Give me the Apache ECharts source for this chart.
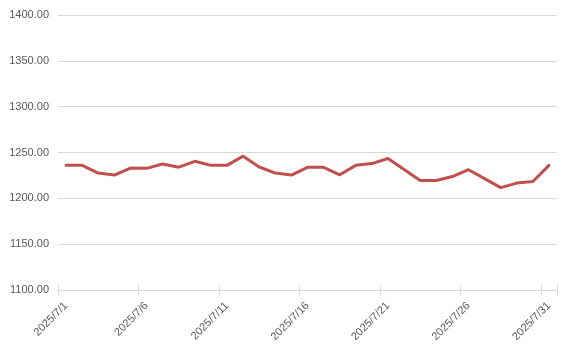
<!DOCTYPE html>
<html>
<head>
<meta charset="utf-8">
<script src="https://cdn.jsdelivr.net/npm/echarts@6/dist/echarts.min.js"></script>
<style>html,body{margin:0;padding:0;background:#fff}#c{width:572px;height:357px}</style>
</head>
<body>
<div id="c"></div>
<script>
var categories = ['2025/7/1','2025/7/2','2025/7/3','2025/7/4','2025/7/5','2025/7/6','2025/7/7','2025/7/8','2025/7/9','2025/7/10','2025/7/11','2025/7/12','2025/7/13','2025/7/14','2025/7/15','2025/7/16','2025/7/17','2025/7/18','2025/7/19','2025/7/20','2025/7/21','2025/7/22','2025/7/23','2025/7/24','2025/7/25','2025/7/26','2025/7/27','2025/7/28','2025/7/29','2025/7/30','2025/7/31'];
var prices = [1236,1236,1227.6,1225.4,1233,1232.7,1237.5,1234,1240.4,1236,1236,1246,1234.2,1227.6,1225.4,1233.8,1233.8,1225.7,1236,1237.9,1243.4,1231.4,1219.4,1219.4,1223.8,1231.2,1221.5,1211.7,1216.6,1218.3,1236];
var yMin = 1100, yMax = 1400, yStep = 50;

var font = 'Liberation Sans, Arial, sans-serif';
var chart = echarts.init(document.getElementById('c'), null, {renderer:'canvas'});
chart.setOption({
  animation: false,
  backgroundColor: '#ffffff',
  grid: {left: 58, right: 15, top: 15, bottom: 67, containLabel: false},
  xAxis: [{
    type: 'category',
    data: categories,
    boundaryGap: true,
    axisLine: {lineStyle: {color: '#d9d9d9', width: 1}},
    axisTick: {show: true, interval: 4, length: 5, lineStyle: {color: '#d9d9d9'}},
    axisLabel: {interval: 4, rotate: 45, color: '#595959', fontSize: 11, fontFamily: font, margin: 14},
    splitLine: {show: false}
  }, {
    type: 'category',
    data: categories,
    position: 'bottom',
    boundaryGap: true,
    axisLine: {show: false},
    axisTick: {show: true, inside: true, interval: 4, length: 5, lineStyle: {color: '#d9d9d9'}},
    axisLabel: {show: false},
    splitLine: {show: false}
  }],
  yAxis: {
    type: 'value',
    min: yMin, max: yMax, interval: yStep,
    axisLine: {show: false},
    axisTick: {show: false},
    axisLabel: {color: '#595959', fontSize: 11, fontFamily: font, margin: 9,
      formatter: function(v){return v.toFixed(2);}},
    splitLine: {lineStyle: {color: '#d9d9d9', width: 1}}
  },
  series: [{
    type: 'line',
    xAxisIndex: 0,
    data: prices,
    symbol: 'none',
    smooth: false,
    lineStyle: {color: '#c0504d', width: 3, cap: 'round', join: 'round'},
    itemStyle: {color: '#c0504d'}
  }]
});
</script>
</body>
</html>
